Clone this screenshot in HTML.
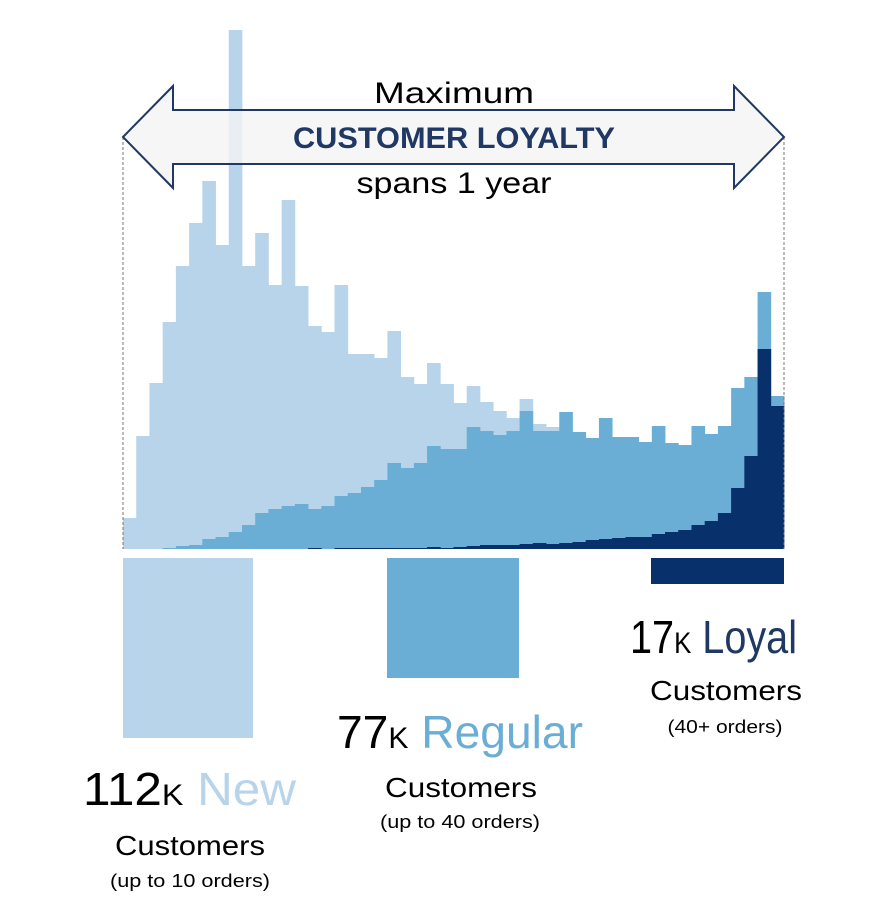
<!DOCTYPE html>
<html><head><meta charset="utf-8"><style>
html,body{margin:0;padding:0;background:#fff;}
svg{display:block;font-family:"Liberation Sans",sans-serif;}
</style></head><body>
<svg id="chart" width="891" height="916" viewBox="0 0 891 916" xmlns="http://www.w3.org/2000/svg">
<g id="bars"></g>
<line x1="123" y1="137" x2="123" y2="549" stroke="#777" stroke-width="1" stroke-dasharray="3,2"/>
<line x1="784" y1="137" x2="784" y2="549" stroke="#777" stroke-width="1" stroke-dasharray="3,2"/>
<path d="M123,137 L173,86 L173,110 L734,110 L734,86 L784,137 L734,188 L734,164 L173,164 L173,188 Z" fill="#f4f4f4" fill-opacity="0.82" stroke="#1f3864" stroke-width="2"/>
<text x="454" y="103" text-anchor="middle" font-size="30" textLength="160" lengthAdjust="spacingAndGlyphs" fill="#000">Maximum</text>
<text x="454" y="148" text-anchor="middle" font-size="30" font-weight="bold" textLength="322" lengthAdjust="spacingAndGlyphs" fill="#1f3864">CUSTOMER LOYALTY</text>
<text x="454" y="193" text-anchor="middle" font-size="30" textLength="195" lengthAdjust="spacingAndGlyphs" fill="#000">spans 1 year</text>

<rect x="123" y="558" width="130" height="180" fill="#b8d4ea"/>
<rect x="387" y="558" width="132" height="120" fill="#6aaed6"/>
<rect x="651" y="558" width="133" height="26" fill="#08306b"/>

<text x="83" y="805" font-size="46" textLength="213" lengthAdjust="spacingAndGlyphs"><tspan fill="#000">112</tspan><tspan font-size="30" fill="#000">K</tspan><tspan fill="#b8d4ea"> New</tspan></text>
<text x="190" y="855" text-anchor="middle" font-size="28" textLength="150" lengthAdjust="spacingAndGlyphs">Customers</text>
<text x="190" y="887" text-anchor="middle" font-size="18" textLength="160" lengthAdjust="spacingAndGlyphs">(up to 10 orders)</text>

<text x="337" y="748" font-size="46" textLength="246" lengthAdjust="spacingAndGlyphs"><tspan fill="#000">77</tspan><tspan font-size="30" fill="#000">K</tspan><tspan fill="#6aaed6"> Regular</tspan></text>
<text x="461" y="797" text-anchor="middle" font-size="28" textLength="152" lengthAdjust="spacingAndGlyphs">Customers</text>
<text x="460" y="828" text-anchor="middle" font-size="18" textLength="160" lengthAdjust="spacingAndGlyphs">(up to 40 orders)</text>

<text x="630" y="653" font-size="46" textLength="167" lengthAdjust="spacingAndGlyphs"><tspan fill="#000">17</tspan><tspan font-size="30" fill="#000">K</tspan><tspan fill="#1f3864"> Loyal</tspan></text>
<text x="726" y="700" text-anchor="middle" font-size="28" textLength="152" lengthAdjust="spacingAndGlyphs">Customers</text>
<text x="725" y="733" text-anchor="middle" font-size="18" textLength="115" lengthAdjust="spacingAndGlyphs">(40+ orders)</text>
</svg>
<script>
const newCounts = [31,113,166,227,283,326,368,304,519,283,316,264,349,263,223,217,264,195,195,191,218,172,165,186,165,146,163,147,138,131,150,125,122,115,110,105,110,105,100,100,98,100,95,100,95,95,80,70,60,50];
const regularCounts = [0,0,0,1,3,4,10,12,17,24,36,40,43,45,40,43,53,56,62,69,86,81,86,103,100,100,122,118,114,118,138,118,118,137,117,111,131,112,112,107,123,106,104,123,115,123,161,172,257,153];
const loyalCounts = [0,0,0,0,0,0,0,0,0,0,0,0,0,0,1,0,1,1,1,1,1,1,1,2,1,2,3,4,4,4,5,6,5,6,7,9,10,11,12,12,15,17,19,24,28,36,61,93,200,143];

const X0 = 123, X1 = 784, BASE = 549, PX_PER_UNIT = 1;
const bw = (X1 - X0) / newCounts.length;
function xPos(i){ return X0 + i * bw; }
function yPos(v){ return BASE - v * PX_PER_UNIT; }
const g = document.getElementById('bars');
const NS = 'http://www.w3.org/2000/svg';
function draw(arr, color, name){
  arr.forEach(function(v, i){
    if (v <= 0) return;
    const r = document.createElementNS(NS, 'rect');
    r.setAttribute('x', xPos(i));
    r.setAttribute('y', yPos(v));
    r.setAttribute('width', bw + 0.4);
    r.setAttribute('height', BASE - yPos(v));
    r.setAttribute('fill', color);
    
    
    g.appendChild(r);
  });
}
draw(newCounts, '#b8d4ea', 'new');
draw(regularCounts, '#6aaed6', 'regular');
draw(loyalCounts, '#08306b', 'loyal');
</script>
</body></html>
